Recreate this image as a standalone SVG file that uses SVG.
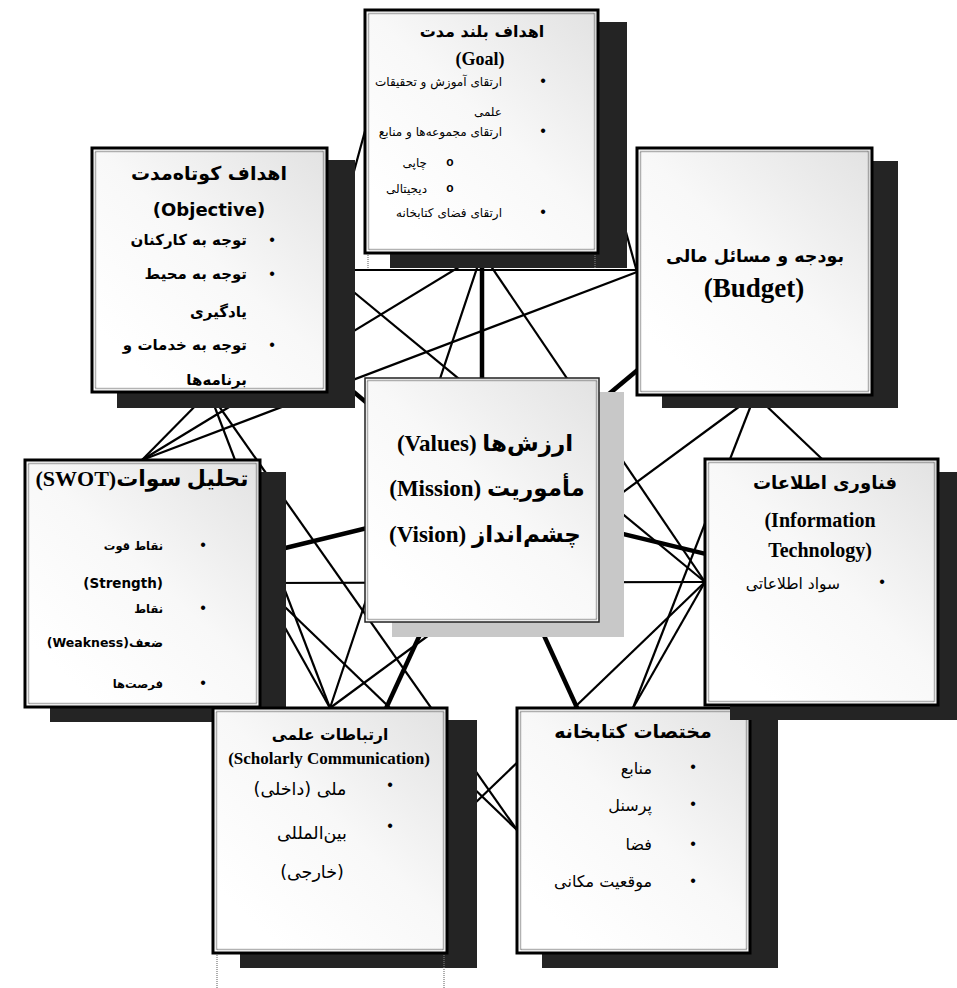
<svg xmlns="http://www.w3.org/2000/svg" width="957" height="988" viewBox="0 0 957 988">
<defs>
<linearGradient id="gr" x1="1" y1="0" x2="0.2" y2="0.9">
<stop offset="0" stop-color="#e2e2e2"/>
<stop offset="0.55" stop-color="#f8f8f8"/>
<stop offset="1" stop-color="#ffffff"/>
</linearGradient>
<style>
.tk{stroke:#000;stroke-width:4.5;fill:none}
.tn{stroke:#000;stroke-width:2.2;fill:none}
.sh{fill:#242424}
.sh2{fill:#c8c8c8}
.bx{fill:url(#gr);stroke:#000;stroke-width:3}
.bx2{fill:url(#gr);stroke:#222;stroke-width:1.5}
.dt{fill:none;stroke:#666;stroke-width:1.5;stroke-dasharray:1 1}
.stub{fill:none;stroke:#777;stroke-width:1.2;stroke-dasharray:1 1}
text{font-family:"DejaVu Sans",sans-serif;fill:#000}
.bd{font-weight:bold}
.sr{font-family:"Liberation Serif","DejaVu Sans",serif;font-weight:bold}
.c{text-anchor:middle}
.e{text-anchor:end}
.rtl{direction:rtl;unicode-bidi:embed}
.bu{font-family:"Liberation Sans",sans-serif;font-size:16px;text-anchor:middle}
.ci{font-family:"Liberation Sans",sans-serif;font-size:12px;font-weight:bold;text-anchor:middle}
</style>
</defs>
<rect width="957" height="988" fill="#fff"/>
<g id="connectors">
<line class="tk" x1="482" y1="500" x2="482" y2="131"/>
<line class="tk" x1="482" y1="500" x2="209" y2="270"/>
<line class="tk" x1="482" y1="500" x2="755" y2="272"/>
<line class="tk" x1="482" y1="500" x2="142" y2="583"/>
<line class="tk" x1="482" y1="500" x2="822" y2="582"/>
<line class="tk" x1="482" y1="500" x2="330" y2="830"/>
<line class="tk" x1="482" y1="500" x2="633" y2="830"/>
<line class="tn" x1="482" y1="253" x2="142" y2="460"/>
<line class="tn" x1="482" y1="253" x2="330" y2="708"/>
<line class="tn" x1="482" y1="253" x2="705" y2="582"/>
<line class="tn" x1="365" y1="131" x2="327" y2="270"/>
<line class="tn" x1="598" y1="131" x2="637" y2="272"/>
<line class="tn" x1="327" y1="270" x2="705" y2="582"/>
<line class="tn" x1="327" y1="270" x2="637" y2="270"/>
<line class="tn" x1="209" y1="392" x2="142" y2="460"/>
<line class="tn" x1="209" y1="392" x2="330" y2="708"/>
<line class="tn" x1="209" y1="392" x2="517" y2="830"/>
<line class="tn" x1="142" y1="460" x2="637" y2="272"/>
<line class="tn" x1="260" y1="583" x2="705" y2="582"/>
<line class="tn" x1="260" y1="583" x2="330" y2="708"/>
<line class="tn" x1="260" y1="583" x2="517" y2="830"/>
<line class="tn" x1="755" y1="395" x2="330" y2="708"/>
<line class="tn" x1="755" y1="395" x2="633" y2="708"/>
<line class="tn" x1="755" y1="395" x2="822" y2="459"/>
<line class="tn" x1="705" y1="582" x2="633" y2="708"/>
<line class="tn" x1="705" y1="582" x2="447" y2="830"/>
</g>
<g id="goal">
<rect class="sh" x="390" y="22" width="237" height="246"/>
<line class="stub" x1="368" y1="253" x2="368" y2="268"/>
<line class="stub" x1="595" y1="253" x2="595" y2="268"/>
<rect class="bx" x="365" y="10" width="233" height="243"/>
<rect class="dt" x="368.5" y="13.5" width="226" height="236"/>
<text class="bd c" x="482" y="37" font-size="16">اهداف بلند مدت</text>
<text class="sr c" x="480" y="65" font-size="18">(Goal)</text>
<text class="bu" x="543" y="86">•</text>
<text class="e" x="502" y="86" font-size="12">ارتقای آموزش و تحقیقات</text>
<text class="e" x="502" y="116" font-size="12">علمی</text>
<text class="bu" x="543" y="136">•</text>
<text class="e" x="502" y="136" font-size="12">ارتقای مجموعه‌ها و منابع</text>
<text class="ci" x="450" y="166">o</text>
<text class="e" x="427" y="167" font-size="12">چاپی</text>
<text class="ci" x="450" y="192">o</text>
<text class="e" x="427" y="193" font-size="12">دیجیتالی</text>
<text class="bu" x="543" y="217">•</text>
<text class="e" x="502" y="217" font-size="12">ارتقای فضای کتابخانه</text>
</g>
<g id="objective">
<rect class="sh" x="117" y="160" width="238" height="248"/>
<rect class="bx" x="92" y="148" width="235" height="244"/>
<rect class="dt" x="95.5" y="151.5" width="228" height="237"/>
<text class="bd c" x="209" y="180" font-size="19">اهداف کوتاه‌مدت</text>
<text class="bd c" x="209" y="216" font-size="18">(Objective)</text>
<text class="bu" x="272" y="245">•</text>
<text class="bd e" x="247" y="245" font-size="15">توجه به کارکنان</text>
<text class="bu" x="272" y="279">•</text>
<text class="bd e" x="247" y="279" font-size="15">توجه به محیط</text>
<text class="bd e" x="247" y="317" font-size="15">یادگیری</text>
<text class="bu" x="272" y="350">•</text>
<text class="bd e" x="247" y="350" font-size="15">توجه به خدمات و</text>
<text class="bd e" x="247" y="385" font-size="15">برنامه‌ها</text>
</g>
<g id="budget">
<rect class="sh" x="662" y="161" width="236" height="247"/>
<rect class="bx" x="637" y="148" width="235" height="247"/>
<rect class="dt" x="640.5" y="151.5" width="228" height="240"/>
<text class="bd c" x="755" y="262" font-size="17.5">بودجه و مسائل مالی</text>
<text class="sr c" x="754" y="297" font-size="27">(Budget)</text>
</g>
<g id="center">
<rect class="sh2" x="392" y="392" width="232" height="245"/>
<rect class="bx2" x="365" y="378" width="234" height="244"/>
<rect class="dt" x="367.5" y="380.5" width="229" height="239"/>
<text class="sr c rtl" direction="rtl" x="485" y="451" font-size="23">ارزش‌ها (Values)</text>
<text class="sr c rtl" direction="rtl" x="487" y="496" font-size="23">مأموریت (Mission)</text>
<text class="sr c rtl" direction="rtl" x="485" y="542" font-size="23">چشم‌انداز (Vision)</text>
</g>
<g id="swot">
<rect class="sh" x="50" y="472" width="236" height="250"/>
<rect class="bx" x="25" y="460" width="235" height="247"/>
<rect class="dt" x="28.5" y="463.5" width="228" height="240"/>
<text class="sr c" x="142" y="486" font-size="22">(SWOT)تحلیل سوات</text>
<text class="bu" x="203" y="550">•</text>
<text class="bd e" x="163" y="550" font-size="11.5">نقاط قوت</text>
<text class="bd e" x="163" y="588" font-size="13.5">(Strength)</text>
<text class="bu" x="203" y="613">•</text>
<text class="bd e" x="163" y="613" font-size="11.5">نقاط</text>
<text class="bd e" x="163" y="647" font-size="12.5">(Weakness)ضعف</text>
<text class="bu" x="203" y="688">•</text>
<text class="bd e" x="163" y="688" font-size="11.5">فرصت‌ها</text>
</g>
<g id="scholarly">
<rect class="sh" x="240" y="720" width="237" height="248"/>
<line class="stub" x1="217" y1="953" x2="217" y2="988"/>
<line class="stub" x1="444" y1="953" x2="444" y2="988"/>
<rect class="bx" x="213" y="708" width="234" height="245"/>
<rect class="dt" x="216.5" y="711.5" width="227" height="238"/>
<text class="bd c" x="330" y="740" font-size="15.5">ارتباطات علمی</text>
<text class="sr c" x="329" y="764" font-size="17">(Scholarly Communication)</text>
<text class="bu" x="390" y="790">•</text>
<text class="c rtl" direction="rtl" x="300" y="795" font-size="17.5">ملی (داخلی)</text>
<text class="bu" x="390" y="831">•</text>
<text class="e" x="347" y="839" font-size="17.5">بین‌المللی</text>
<text class="c rtl" direction="rtl" x="312" y="878" font-size="17.5">(خارجی)</text>
</g>
<g id="library">
<rect class="sh" x="542" y="720" width="236" height="248"/>
<rect class="bx" x="517" y="708" width="233" height="245"/>
<rect class="dt" x="520.5" y="711.5" width="226" height="238"/>
<text class="bd c" x="633" y="738" font-size="19">مختصات کتابخانه</text>
<text class="bu" x="693" y="772">•</text>
<text class="e" x="652" y="774" font-size="16">منابع</text>
<text class="bu" x="693" y="809">•</text>
<text class="e" x="652" y="811" font-size="16">پرسنل</text>
<text class="bu" x="693" y="849">•</text>
<text class="e" x="652" y="850" font-size="16">فضا</text>
<text class="bu" x="693" y="886">•</text>
<text class="e" x="652" y="887" font-size="16">موقعیت مکانی</text>
</g>
<g id="it">
<rect class="sh" x="730" y="472" width="235" height="248"/>
<rect class="bx" x="705" y="459" width="233" height="246"/>
<rect class="dt" x="708.5" y="462.5" width="226" height="239"/>
<text class="bd c" x="825" y="489" font-size="18">فناوری اطلاعات</text>
<text class="sr c" x="820" y="527" font-size="20">(Information</text>
<text class="sr c" x="820" y="557" font-size="20">Technology)</text>
<text class="bu" x="882" y="587">•</text>
<text class="e" x="840" y="589" font-size="15.5">سواد اطلاعاتی</text>
</g>
</svg>
